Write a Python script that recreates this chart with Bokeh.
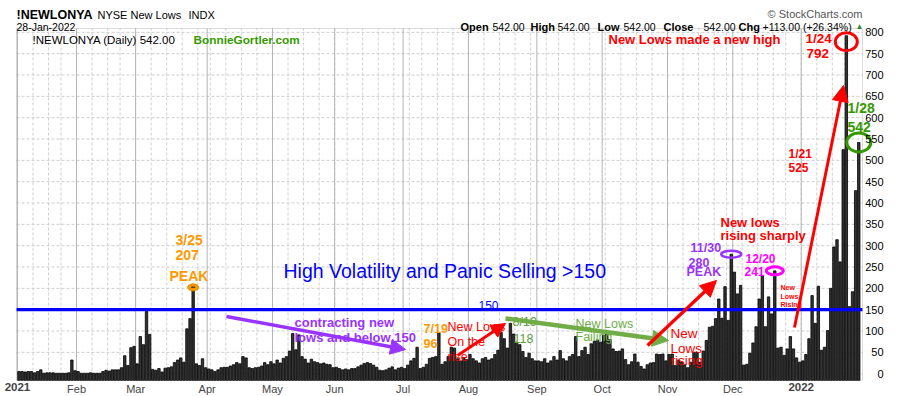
import numpy as np
import pandas as pd
from bokeh.plotting import figure
from bokeh.models import Range1d, Label, Arrow, NormalHead, BoxAnnotation
from bokeh.embed import file_html
from bokeh.resources import INLINE

# ---------------- data (NYSE new lows, daily) ----------------
jan21 = [5, 5, 4, 5, 5, 2, 5, 9, 1, 2, 2, 2, 1, 1, 1, 1, 2, 32, 7]
feb21 = [5, 1, 1, 1, 2, 1, 1, 1, 5, 8, 6, 9, 9, 9, 14, 42, 19, 61, 64]
mar21 = [23, 87, 68, 146, 92, 10, 8, 12, 4, 13, 14, 16, 26, 32, 37, 27, 105, 129, 207, 23, 19, 35, 14]
apr21 = [11, 9, 5, 9, 14, 15, 15, 18, 21, 26, 23, 40, 37, 14, 12, 14, 15, 18, 26, 21, 28]
may21 = [23, 32, 25, 36, 40, 53, 94, 56, 91, 40, 34, 25, 34, 28, 26, 23, 25, 22, 21, 14]
jun21 = [15, 12, 9, 11, 9, 12, 12, 16, 20, 24, 26, 24, 20, 15, 8, 7, 9, 13, 16, 9, 13, 15]
jul21 = [12, 20, 30, 36, 62, 12, 15, 22, 36, 38, 40, 96, 22, 28, 40, 62, 60, 35, 30, 37, 33]
aug21 = [45, 35, 30, 25, 35, 38, 32, 35, 45, 55, 97, 82, 60, 118, 93, 74, 68, 52, 38, 48, 35, 30]
sep21 = [30, 28, 35, 25, 30, 40, 32, 54, 35, 30, 40, 45, 87, 40, 54, 62, 45, 70, 76, 79, 74]
oct21 = [90, 97, 80, 58, 52, 53, 58, 33, 21, 28, 46, 27, 17, 11, 21, 25, 26, 46, 45, 46, 30]
nov21 = [45, 46, 19, 32, 27, 21, 14, 27, 50, 50, 27, 53, 78, 109, 111, 129, 175, 130, 204, 125, 280]
dec21 = [238, 187, 207, 20, 22, 48, 72, 110, 175, 230, 110, 180, 140, 241, 60, 62, 43, 58, 87, 58, 37, 27]
jan22 = [30, 45, 82, 183, 118, 205, 55, 62, 101, 200, 297, 314, 262, 525, 792, 157, 192, 429, 542]

values = (jan21 + feb21 + mar21 + apr21 + may21 + jun21 + jul21 + aug21 + sep21
          + oct21 + nov21 + dec21 + jan22)

holidays = ["2021-01-01", "2021-01-18", "2021-02-15", "2021-04-02", "2021-05-31",
            "2021-07-05", "2021-09-06", "2021-11-25", "2021-12-24", "2022-01-17"]
dates = pd.bdate_range("2021-01-04", "2022-01-28")
dates = dates[~dates.isin(pd.to_datetime(holidays))]
n = len(dates)
assert n == len(values), (n, len(values))
xs = np.arange(n)

month_labels = ["2021", "Feb", "Mar", "Apr", "May", "Jun", "Jul", "Aug", "Sep",
                "Oct", "Nov", "Dec", "2022"]
y_ticks = list(range(0, 801, 50))
y_tick_labels = [str(v) for v in y_ticks]

month_start = [i for i in range(n) if i == 0 or dates[i].month != dates[i - 1].month]
week_start = [i for i in range(n) if i == 0 or dates[i].weekday() <= dates[i - 1].weekday()]

def di(d):
    return int(np.where(dates == pd.Timestamp(d))[0][0])

# ---------------- layout helpers ----------------
FONT = "Liberation Sans"
# visible chart box (page pixels) and its data extent
PL, PT, PR, PB = 16, 28, 862, 380
X0, X1 = -0.8, n + 0.2
Y0, Y1 = -16, 809
SX = (PR - PL) / (X1 - X0)
SY = (PB - PT) / (Y1 - Y0)
W, H = 900, 396

def dx(px):
    return X0 + (px - PL) / SX

def dy(py):
    return Y0 + (PB - py) / SY

RED = "#ff0000"
BLUE = "#0000ff"
ORANGE = "#ff9900"
PURPLE = "#9933ff"
MAGENTA = "#ff00ff"
GREEN_D = "#339900"
GREEN_L = "#70ad47"
GREEN_M = "#5b9b3b"

p = figure(frame_width=W, frame_height=H,
           x_range=Range1d(dx(0), dx(W)), y_range=Range1d(dy(H), dy(0)),
           x_axis_location=None, y_axis_location=None,
           output_backend="svg", toolbar_location=None,
           min_border_left=0, min_border_right=0, min_border_top=0, min_border_bottom=0,
           outline_line_color=None, background_fill_color="white",
           border_fill_color="white")
p.grid.visible = False

# grid lines inside the chart box
wk = [i - 0.5 for i in week_start]
mt = [i - 0.5 for i in month_start]
p.segment(x0=X0, y0=y_ticks, x1=X1, y1=y_ticks, line_color="#cccccc", line_dash="3 2", line_width=1)
p.segment(x0=wk, y0=Y0, x1=wk, y1=Y1, line_color="#d0d0d0", line_dash="3 2", line_width=1)
p.segment(x0=mt, y0=Y0, x1=mt, y1=Y1, line_color="#b4b4b4", line_width=1)

# bars
p.vbar(x=xs, top=values, bottom=Y0, width=0.78, fill_color="#333333",
       line_color="#000000", line_width=0.8)

# threshold line
p.segment(x0=[X0], y0=[150], x1=[X1], y1=[150], line_color=BLUE, line_width=3.2)

# chart box outline
p.add_layout(BoxAnnotation(left=X0, right=X1, bottom=Y0, top=Y1, fill_color=None,
                           line_color="#8c8c8c", line_width=1))

# value scale labels on the right (right-aligned like the source)
for v, t in zip(y_ticks, y_tick_labels):
    p.add_layout(Label(x=dx(883), y=v, text=t, text_font=FONT, text_font_size="11px",
                       text_color="#000000", text_align="right", text_baseline="middle"))

# month / year labels along the bottom
for t, lab_ in zip(mt, month_labels):
    yr = lab_.isdigit()
    p.add_layout(Label(x=t, y=dy(382.5), text=lab_, text_font=FONT,
                       text_font_size="11.5px" if yr else "11px",
                       text_font_style="bold" if yr else "normal",
                       text_align="center", text_baseline="top"))

# ---------------- texts ----------------
def lab(text, px, py, size, color="#000000", style="normal", align="left"):
    p.add_layout(Label(x=dx(px), y=dy(py), text=text, text_font=FONT,
                       text_font_size=f"{size}px", text_font_style=style,
                       text_color=color, text_align=align, text_baseline="alphabetic"))

# header
lab("!NEWLONYA", 16, 14, 12.5, style="bold")
lab("NYSE New Lows", 97, 14, 11)
lab("INDX", 188, 14, 11)
lab("28-Jan-2022", 16, 26.5, 10.5)
lab("\u00a9 StockCharts.com", 862, 13.5, 11, color="#555555", align="right")
for t, px, st in [("Open", 460, "bold"), ("542.00", 492, "normal"), ("High", 530, "bold"),
                  ("542.00", 557, "normal"), ("Low", 597, "bold"), ("542.00", 623, "normal"),
                  ("Close", 663, "bold"), ("542.00", 703, "normal"), ("Chg", 738, "bold"),
                  ("+113.00 (+26.34%)", 762, "normal")]:
    lab(t, px, 26.5, 11 if st == "bold" else 10.5, style=st)
lab("\u25b2", 855, 25.5, 8, color="#2e8b2e")
lab("!NEWLONYA (Daily) 542.00", 32, 39.5, 11.5)
lab("BonnieGortler.com", 193, 39.5, 11.8, color=GREEN_D, style="bold")

# annotations
lab("High Volatility and Panic Selling >150", 283, 270.5, 19.5, color=BLUE)
lab("150", 478, 305, 12, color=BLUE)
lab("3/25", 175, 239, 14, color=ORANGE, style="bold")
lab("207", 175, 254, 14, color=ORANGE, style="bold")
lab("PEAK", 169, 275, 14, color=ORANGE, style="bold")
lab("contracting new", 294, 321.5, 13, color=PURPLE, style="bold")
lab("lows and below 150", 294, 336.5, 13, color=PURPLE, style="bold")
lab("7/19", 423, 328, 12.5, color=ORANGE, style="bold")
lab("96", 423, 343, 12.5, color=ORANGE, style="bold")
lab("New Lows", 447, 326.7, 12.5, color=RED)
lab("On the", 447, 341.7, 12.5, color=RED)
lab("rise", 447, 356.7, 12.5, color=RED)
lab("8/19", 512, 321.7, 12.5, color=GREEN_M)
lab("118", 513, 338, 12.5, color=GREEN_M)
lab("New Lows", 575, 323, 12.5, color=GREEN_L)
lab("Failing", 575, 336, 12.5, color=GREEN_L)
lab("New", 670, 333, 13.5, color=RED)
lab("Lows", 670, 348, 13.5, color=RED)
lab("rising", 670, 360, 13.5, color=RED)
lab("New lows", 720, 221.7, 13, color=RED, style="bold")
lab("rising sharply", 720, 235.3, 13, color=RED, style="bold")
lab("11/30", 690, 247, 12.5, color=PURPLE, style="bold")
lab("280", 688, 261.7, 12.5, color=PURPLE, style="bold")
lab("PEAK", 686, 271.7, 12.5, color=PURPLE, style="bold")
lab("12/20", 745, 258, 12, color=MAGENTA, style="bold")
lab("241", 744, 270.7, 12, color=MAGENTA, style="bold")
lab("New", 780, 287, 7, color=RED, style="bold")
lab("Lows", 780, 295.5, 7, color=RED, style="bold")
lab("Rising", 780, 303.5, 7, color=RED, style="bold")
lab("1/21", 788, 153, 12, color=RED, style="bold")
lab("525", 788, 167.3, 12, color=RED, style="bold")
lab("New Lows made a new high", 608, 39.3, 13, color=RED, style="bold")
lab("1/24", 805, 38.3, 13.5, color=RED, style="bold")
lab("792", 806, 53.3, 13.5, color=RED, style="bold")
lab("1/28", 847, 107.3, 14, color=GREEN_D, style="bold")
lab("542", 847, 126.7, 14, color=GREEN_D, style="bold")

# arrows
def arrow(x0, y0, x1, y1, color, lw, size):
    p.add_layout(Arrow(x_start=dx(x0), y_start=dy(y0), x_end=dx(x1), y_end=dy(y1),
                       line_color=color, line_width=lw,
                       end=NormalHead(size=size, fill_color=color, line_color=color)))

arrow(226, 316, 405, 349, PURPLE, 3.5, 15)
arrow(457, 355, 505, 323, RED, 3, 14)
arrow(505, 318, 668, 340, GREEN_L, 4.5, 16)
arrow(647, 345, 716, 280, RED, 3.3, 16)
arrow(794, 327, 843, 85, RED, 3, 16)

# markers around key bars
i325, i1130, i1220, i124, i128 = (di("2021-03-25"), di("2021-11-30"), di("2021-12-20"),
                                   di("2022-01-24"), di("2022-01-28"))
p.ellipse(x=[i325], y=[values[i325] - 2 / SY], width=11, height=7, width_units="screen",
          height_units="screen", fill_color=ORANGE, line_color="#e68a00", line_width=1)
p.rect(x=[i325], y=[values[i325] - 2 / SY], width=4, height=1.5, width_units="screen",
       height_units="screen", fill_color="#444444", line_color=None)
p.ellipse(x=[i1130], y=[values[i1130]], width=20, height=7, width_units="screen",
          height_units="screen", fill_color=None, line_color=PURPLE, line_width=2.5)
p.ellipse(x=[i1220], y=[values[i1220]], width=17, height=8, width_units="screen",
          height_units="screen", fill_color=None, line_color=MAGENTA, line_width=3)
p.ellipse(x=[i124], y=[values[i124] - 6 / SY], width=22, height=18, width_units="screen",
          height_units="screen", fill_color=None, line_color=RED, line_width=3)
p.ellipse(x=[i128], y=[values[i128]], width=24, height=19, width_units="screen",
          height_units="screen", fill_color=None, line_color=GREEN_D, line_width=3)

open("out.html", "w").write(file_html(p, INLINE))
